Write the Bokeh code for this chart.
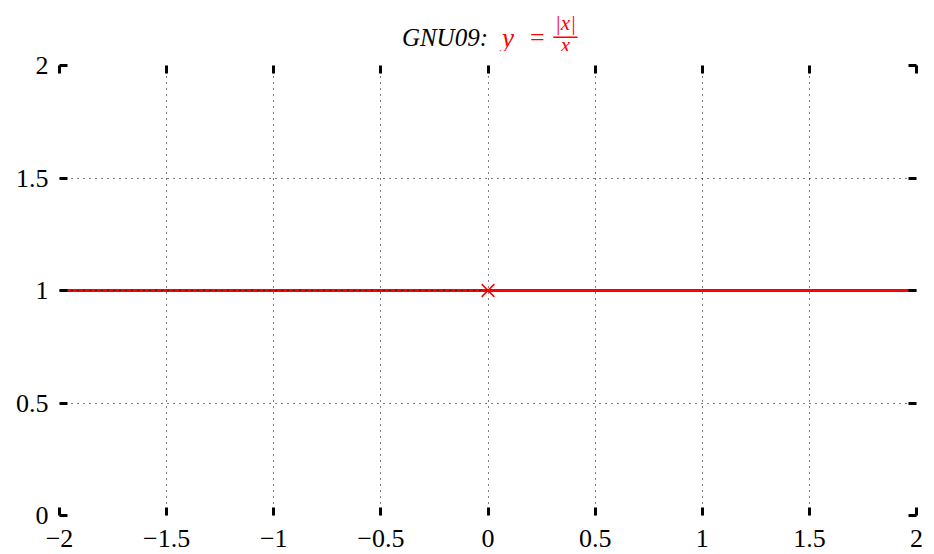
from bokeh.plotting import figure
from bokeh.layouts import column
from bokeh.models import LinearAxis, Label, FixedTicker, Range1d
from bokeh.embed import file_html
from bokeh.resources import INLINE

# ---- data ----
x_left = [-2.0, 0.0]
y_left = [1.0, 1.0]
x_right = [0.0, 2.0]
y_right = [1.0, 1.0]
marker_x = [0.0]
marker_y = [1.0]

x_ticks = [-2, -1.5, -1, -0.5, 0, 0.5, 1, 1.5, 2]
x_tick_labels = ["\u22122", "\u22121.5", "\u22121", "\u22120.5", "0", "0.5", "1", "1.5", "2"]
y_ticks = [0, 0.5, 1, 1.5, 2]
y_tick_labels = ["0", "0.5", "1", "1.5", "2"]

FONT = "Liberation Serif"
RED = "#ff0000"
W = 926
TITLE_H = 51
H = 549

# ---- title strip (separate figure so its texts are not clipped) ----
t = figure(width=W, height=TITLE_H, output_backend="svg", toolbar_location=None,
           x_range=Range1d(-2, 2), y_range=Range1d(0, 1),
           x_axis_location=None, y_axis_location=None, title=None,
           min_border_left=59, min_border_right=10, min_border_top=0, min_border_bottom=0)
t.outline_line_color = None
t.grid.visible = False

def tlabel(text, dx, sy, size, color, style="italic", align="left"):
    t.add_layout(Label(x=0, y=sy, y_units="screen", x_offset=dx, text=text, text_align=align,
                       text_baseline="alphabetic", text_font=FONT, text_font_style=style,
                       text_font_size=size, text_color=color))

tlabel("GNU09:", 0, 14, "25px", "black", align="right")
tlabel("y", 14, 14, "27px", RED)
tlabel("=", 42, 14, "26px", RED, style="normal")
tlabel("|x|", 77.5, 29, "21px", RED, align="center")
tlabel("\u2014", 77.5, 17, "24px", RED, style="bold", align="center")
tlabel("x", 77.5, 7, "21px", RED, align="center")

# ---- main plot ----
p = figure(width=W, height=H - TITLE_H, output_backend="svg", toolbar_location=None,
           x_range=Range1d(-2, 2), y_range=Range1d(0, 2), title=None,
           min_border_left=59, min_border_right=10, min_border_top=14, min_border_bottom=34)
p.outline_line_color = None
p.background_fill_color = "white"

def style_axis(ax, ticks, labels, show_labels):
    ax.ticker = FixedTicker(ticks=ticks)
    ax.major_label_overrides = {t_: (l if show_labels else "") for t_, l in zip(ticks, labels)}
    ax.axis_line_color = None
    ax.major_tick_in = 8
    ax.major_tick_out = 0
    ax.major_tick_line_width = 3
    ax.major_tick_line_color = "black"
    ax.minor_tick_line_color = None
    ax.major_label_text_font = FONT
    ax.major_label_text_font_size = "26px" if show_labels else "1px"
    ax.major_label_text_color = "black"
    ax.major_label_standoff = 14 if show_labels else 0

style_axis(p.xaxis[0], x_ticks, x_tick_labels, True)
style_axis(p.yaxis[0], y_ticks, y_tick_labels, True)
p.yaxis[0].major_label_standoff = 11

top = LinearAxis()
style_axis(top, x_ticks, x_tick_labels, False)
p.add_layout(top, "above")
right = LinearAxis()
style_axis(right, y_ticks, y_tick_labels, False)
p.add_layout(right, "right")

for g, ticks in ((p.xgrid[0], x_ticks), (p.ygrid[0], y_ticks)):
    g.ticker = FixedTicker(ticks=ticks)
    g.grid_line_color = "black"
    g.grid_line_dash = "1 5"
    g.grid_line_width = 1

# left branch sits under the dotted grid, right branch above it (as in the reference)
p.line(x_left, y_left, line_color=RED, line_width=3, level="image")
p.line(x_right, y_right, line_color=RED, line_width=3)
p.scatter(marker_x, marker_y, marker="x", size=18, line_color=RED, line_width=1.5)

layout = column(t, p, spacing=0)
open("out.html", "w").write(file_html(layout, INLINE))
